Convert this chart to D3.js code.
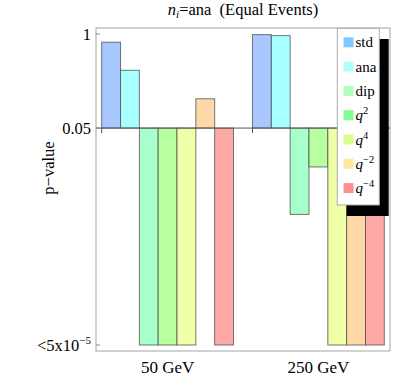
<!DOCTYPE html>
<html>
<head>
<meta charset="utf-8">
<script src="https://cdn.jsdelivr.net/npm/d3@7"></script>
<style>
  body { margin: 0; background: #fff; }
</style>
</head>
<body>
<div id="chart"></div>
<script>
// data
const categories = ["50 GeV", "250 GeV"];
const seriesNames = ["std", "ana", "dip", "q2", "q4", "q-2", "q-4"];
const values50 = [0.77, 0.315, 5e-5, 5e-5, 5e-5, 0.127, 5e-5];
const values250 = [0.98, 0.95, 0.0032, 0.0145, 5e-5, 5e-5, 5e-5];
const barColors = ["#a8c8ff", "#a8ffff", "#a8ffcc", "#b8ffa0", "#eeffa8", "#ffd8a8", "#ffa8a8"];
const swatchColors = ["#80c8ff", "#b0ffff", "#b0ffc0", "#80ff90", "#d8ff90", "#ffe8a0", "#ff9090"];
const yTicks = [1, 0.05, 5e-5];
const baseline = 0.05;

const width = 415, height = 387;
const frame = { left: 96, right: 390, top: 28, bottom: 351 };
const serif = "'Liberation Serif', 'Times New Roman', Times, serif";

const data = [];
categories.forEach((c, ci) => {
  const vals = ci === 0 ? values50 : values250;
  seriesNames.forEach((s, si) => data.push({ cat: c, series: s, value: vals[si], color: barColors[si] }));
});

/** SCALES */
const xScale = d3.scaleBand()
  .domain(categories)
  .range([101.7, 384.3])
  .paddingInner(0.126);

const xInner = d3.scaleBand()
  .domain(seriesNames)
  .range([0, xScale.bandwidth()]);

const yScale = d3.scaleLog()
  .domain([5e-5, 1])
  .range([345, 34]);

/** DRAWING */
const svg = d3.select("#chart").append("svg")
  .attr("width", width)
  .attr("height", height)
  .attr("font-family", serif);

// title
const title = svg.append("text")
  .attr("x", 243)
  .attr("y", 15)
  .attr("text-anchor", "middle")
  .attr("font-size", 16.5);
title.append("tspan").attr("font-style", "italic").text("n");
title.append("tspan").attr("font-style", "italic").attr("font-size", 11).attr("dy", 3).text("i");
title.append("tspan").attr("dy", -3).text("=ana\u00a0\u00a0(Equal Events)");

// frame
svg.append("rect")
  .attr("x", frame.left)
  .attr("y", frame.top)
  .attr("width", frame.right - frame.left)
  .attr("height", frame.bottom - frame.top)
  .attr("fill", "none")
  .attr("stroke", "#b4b4b4")
  .attr("stroke-width", 1.2);

// bars (from the 0.05 baseline)
svg.selectAll("rect.bar")
  .data(data)
  .join("rect")
  .attr("class", "bar")
  .attr("x", d => xScale(d.cat) + xInner(d.series))
  .attr("width", xInner.bandwidth())
  .attr("y", d => Math.min(yScale(d.value), yScale(baseline)))
  .attr("height", d => Math.abs(yScale(d.value) - yScale(baseline)))
  .attr("fill", d => d.color)
  .attr("stroke", "#4a4a4a")
  .attr("stroke-opacity", 0.75)
  .attr("stroke-width", 1);

// baseline axis
svg.append("line")
  .attr("x1", frame.left)
  .attr("x2", frame.right)
  .attr("y1", yScale(baseline))
  .attr("y2", yScale(baseline))
  .attr("stroke", "#555")
  .attr("stroke-width", 1);

// group ticks on the baseline
svg.selectAll("line.xtick")
  .data(categories)
  .join("line")
  .attr("class", "xtick")
  .attr("x1", d => xScale(d))
  .attr("x2", d => xScale(d))
  .attr("y1", yScale(baseline))
  .attr("y2", yScale(baseline) + 5)
  .attr("stroke", "#555");

// y ticks
svg.selectAll("line.ytick")
  .data(yTicks)
  .join("line")
  .attr("class", "ytick")
  .attr("x1", frame.left)
  .attr("x2", frame.left + 4)
  .attr("y1", d => yScale(d))
  .attr("y2", d => yScale(d))
  .attr("stroke", "#888");

const ytl = svg.selectAll("text.ytl")
  .data(yTicks)
  .join("text")
  .attr("class", "ytl")
  .attr("x", 91)
  .attr("y", d => yScale(d) + 5.5)
  .attr("text-anchor", "end")
  .attr("font-size", 16.5);
ytl.filter(d => d !== 5e-5).text(d => d3.format("")(d));
const low = ytl.filter(d => d === 5e-5);
low.append("tspan").text("<5x10");
low.append("tspan").attr("font-size", 11).attr("dy", -7).text("\u22125");

// x labels
svg.selectAll("text.xtl")
  .data(categories)
  .join("text")
  .attr("class", "xtl")
  .attr("x", d => xScale(d) + xScale.bandwidth() / 2)
  .attr("y", 373)
  .attr("text-anchor", "middle")
  .attr("font-size", 17)
  .text(d => d);

// y label
svg.append("text")
  .attr("transform", "translate(54,168) rotate(-90)")
  .attr("text-anchor", "middle")
  .attr("font-size", 16.5)
  .text("p\u2212value");

// legend
const legend = svg.append("g");
legend.append("rect")
  .attr("x", 346.7).attr("y", 39)
  .attr("width", 42).attr("height", 177)
  .attr("fill", "#000");
legend.append("rect")
  .attr("x", 337.3).attr("y", 28.3)
  .attr("width", 42).attr("height", 176.7)
  .attr("fill", "#fff")
  .attr("stroke", "#aaa");

const entries = legend.selectAll("g.entry")
  .data(seriesNames)
  .join("g")
  .attr("class", "entry")
  .attr("transform", (d, i) => `translate(0,${42.3 + i * 24.3})`);
entries.append("rect")
  .attr("x", 343.5).attr("y", -5)
  .attr("width", 10).attr("height", 10)
  .attr("fill", (d, i) => swatchColors[i]);
const lt = entries.append("text")
  .attr("x", 355.5)
  .attr("y", 5)
  .attr("font-size", 15);
lt.filter(d => !d.startsWith("q")).text(d => d);
const qt = lt.filter(d => d.startsWith("q"));
qt.append("tspan").attr("font-style", "italic").text("q");
qt.append("tspan").attr("font-size", 10.5).attr("dy", -6)
  .text(d => d.slice(1).replace("-", "\u2212"));
</script>
</body>
</html>
